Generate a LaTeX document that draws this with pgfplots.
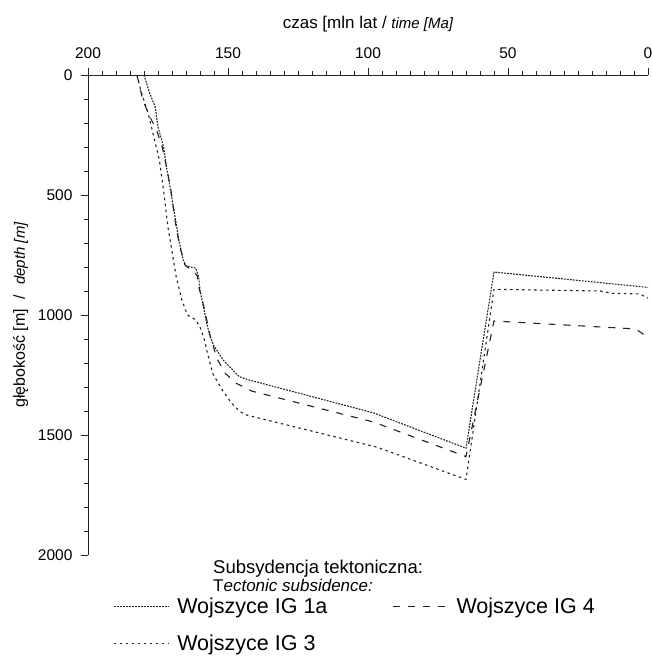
\documentclass[border=0pt]{standalone}
\usepackage{fontspec}
\setmainfont{Liberation Sans}
\usepackage{pgfplots}
\pgfplotsset{compat=1.18}
\definecolor{ln}{HTML}{222222}
\begin{document}
\begin{tikzpicture}
\begin{axis}[
  name=ax,
  scale only axis, width=560pt, height=480pt,
  x dir=reverse, y dir=reverse,
  xmin=0, xmax=200, ymin=0, ymax=2000,
  axis x line=top, axis y line=left,
  axis line style={-, line width=0.8pt, ln},
  xtick={0,50,...,200}, ytick={0,500,...,2000},
  minor x tick num=9, minor y tick num=4,
  tick align=outside,
  major tick length=7pt, minor tick length=4pt,
  every tick/.style={ln, line width=0.8pt},
  /pgf/number format/assume math mode=true,
  /pgf/number format/1000 sep={},
  ticklabel style={font=\fontsize{15.5}{17}\selectfont},
  xticklabel style={yshift=6pt},
  yticklabel style={xshift=-5pt},
  xlabel={czas [mln lat / {\fontsize{15}{17}\selectfont\itshape time [Ma]}},
  xlabel style={font=\fontsize{17}{19}\selectfont, yshift=9pt},
  ylabel={głębokość [m]\hspace{10pt}/\hspace{10pt}{\fontsize{15}{17}\selectfont\itshape depth [m]}},
  ylabel style={font=\fontsize{16}{18}\selectfont, yshift=3pt},
  clip=false,
  legend columns=2,
  legend cell align=left,
  legend style={at={(axis cs:200,2000)}, anchor=north west, xshift=22pt, yshift=-39pt,
    draw=none, fill=none, font=\fontsize{21.5}{24}\selectfont,
    nodes={inner xsep=8pt},
    /tikz/every even column/.append style={column sep=57pt},
    row sep=16pt},
  legend image code/.code={\draw[#1] (0pt,0pt) -- (55pt,0pt);},
]
\addplot[ln, line width=1.1pt, dash pattern=on 1.8pt off 1.2pt] coordinates {
(180,0) (178,75) (176,133) (175,215) (173,300) (172,382) (170.7,465) (169.5,550) (168.5,620) (167.5,690) (166,770) (165,795) (161.5,805) (160.5,840) (160,896) (158.8,965) (157.6,1035) (156.4,1090) (155.2,1125) (151.7,1188) (146,1257) (143.3,1268) (98,1408) (65,1555) (55,821) (0,885)
};
\addlegendentry{Wojszyce IG 1a}
\addplot[ln, line width=1.1pt, dash pattern=on 7pt off 8pt] coordinates {
(182.5,0) (180.5,100) (178.5,160) (175.5,230) (173.5,300) (172,380) (170.5,470) (169,600) (167.5,700) (165.5,790) (161,835) (160.5,880) (158.5,970) (156.5,1080) (155.5,1120) (154,1180) (151,1243) (147,1285) (141.5,1317) (98,1446) (65,1590) (55,1025) (4.5,1058) (0,1092)
};
\addlegendentry{Wojszyce IG 4}
\addplot[ln, line width=1.1pt, dash pattern=on 2.5pt off 3.5pt] coordinates {
(182.5,0) (181,70) (178.5,160) (176.5,257) (174.5,354) (173.5,440) (172.8,500) (171.5,630) (170.5,700) (168.5,840) (166.5,937) (164.5,1000) (161.5,1020) (160,1050) (158.5,1100) (157.5,1150) (155.5,1243) (152,1313) (148.7,1368) (145.7,1403) (143.3,1417) (97,1550) (65,1685) (55,893) (17,900) (13,910) (3,912) (0,930)
};
\addlegendentry{Wojszyce IG 3}
\coordinate (tl) at (axis cs:200,0);
\coordinate (bl) at (axis cs:200,2000);
\end{axis}
\node[anchor=base west, font=\fontsize{18.5}{20}\selectfont, inner sep=0pt] at ([shift={(125pt,-19pt)}]bl) {Subsydencja tektoniczna:};
\node[anchor=base west, font=\fontsize{17}{19}\selectfont, inner sep=0pt] at ([shift={(125pt,-37pt)}]bl) {T\textit{ectonic subsidence:}};
\pgfresetboundingbox
\path ([shift={(-88pt,75pt)}]tl) rectangle ++(651pt,-664pt);
\end{tikzpicture}
\end{document}
